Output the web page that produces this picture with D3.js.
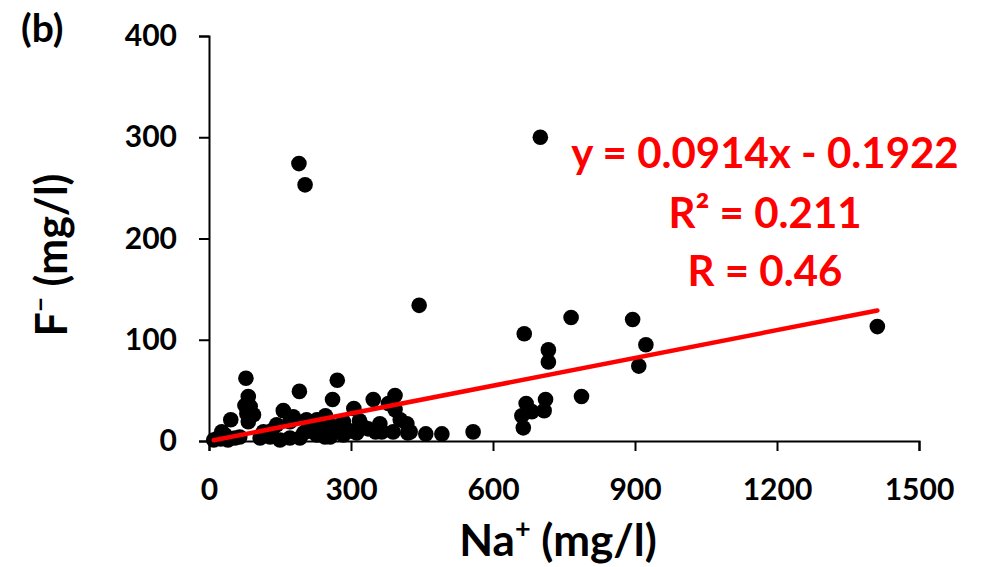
<!DOCTYPE html>
<html>
<head>
<meta charset="utf-8">
<script src="https://cdn.jsdelivr.net/npm/d3@7"></script>
<style>
    body { margin: 0; background: #ffffff; }
    svg { display: block; }
    text { font-family: Lato, "Open Sans", sans-serif; font-weight: bold; }
</style>
</head>
<body>
<div id="chart"></div>
<script>
// Na+ (mg/l) values of the samples
const naValues = [
    190, 203, 700, 444, 765, 895, 666, 717, 717, 923, 908, 1412,
    787, 711, 670, 682, 708, 661, 664, 558, 492, 458, 420,
    78, 83, 76, 87, 80, 94, 46, 83, 191, 157, 34, 19, 115, 143, 171, 206,
    108, 150, 192, 220,
    271, 261, 347, 393, 306, 379, 393, 228, 256, 284, 326, 361, 404, 418,
    425, 365, 312, 256, 228, 284, 389,
    178, 129, 171, 245, 10, 25, 40, 55, 65, 27,
    132, 200, 238, 266, 298, 336, 352, 214, 246, 318
];
// F- (mg/l) values of the same samples
const fValues = [
    274, 253, 300, 134, 122, 120, 106, 90, 78, 95, 74, 113,
    44, 41, 37, 29, 30, 25, 13, 9, 7, 7, 8,
    62, 44, 35, 34, 27, 26, 21, 19, 49, 30, 6, 3, 9, 16, 19, 21,
    3, 1, 3, 9,
    60, 41, 41, 45, 32, 37, 31, 21, 16, 19, 14, 17, 21, 17,
    9, 9, 8, 4, 6, 6, 9,
    24, 4, 3, 4, 1, 2, 1, 3, 4, 9,
    10, 8, 12, 10, 10, 12, 9, 14, 25, 20
];
const xTicks = [0, 300, 600, 900, 1200, 1500];
const yTicks = [0, 100, 200, 300, 400];

// trend line y = slope * x + intercept
const slope = 0.0914;
const intercept = -0.1922;
const statLines = ["y = 0.0914x - 0.1922", "R² = 0.211", "R = 0.46"];

const width = 981;
const height = 567;

const svg = d3.select("#chart")
    .append("svg")
    .attr("width", width)
    .attr("height", height);

const x = d3.scaleLinear().domain([0, 1500]).range([209, 919]);
const y = d3.scaleLinear().domain([0, 400]).range([441, 36]);

// x axis
svg.append("g")
    .attr("transform", `translate(0,${y(0)})`)
    .call(d3.axisBottom(x).tickValues(xTicks).tickFormat(d3.format("d"))
        .tickSize(10).tickSizeOuter(10).tickPadding(28))
    .call(g => g.selectAll(".domain, .tick line").attr("stroke", "#000").attr("stroke-width", 2))
    .call(g => g.selectAll(".tick text").attr("fill", "#000").attr("font-size", "30px")
        .attr("font-family", "Lato, 'Open Sans', sans-serif").attr("font-weight", "bold"));

// y axis
svg.append("g")
    .attr("transform", `translate(${x(0)},0)`)
    .call(d3.axisLeft(y).tickValues(yTicks).tickFormat(d3.format("d"))
        .tickSize(10).tickSizeOuter(10).tickPadding(22))
    .call(g => g.selectAll(".domain, .tick line").attr("stroke", "#000").attr("stroke-width", 2))
    .call(g => g.selectAll(".tick text").attr("fill", "#000").attr("font-size", "30px")
        .attr("font-family", "Lato, 'Open Sans', sans-serif").attr("font-weight", "bold"));

// points
svg.append("g")
    .selectAll("circle")
    .data(naValues)
    .enter()
    .append("circle")
    .attr("cx", d => x(d))
    .attr("cy", (d, i) => y(fValues[i]))
    .attr("r", 7.8)
    .attr("fill", "#000");

// trend line over the data range
const xExtent = d3.extent(naValues);
const line = d3.line()
    .x(d => x(d))
    .y(d => y(slope * d + intercept));

svg.append("path")
    .datum(xExtent)
    .attr("fill", "none")
    .attr("stroke", "#ff0000")
    .attr("stroke-width", 4.5)
    .attr("stroke-linecap", "round")
    .attr("d", line);

// equation text
svg.append("g")
    .selectAll("text")
    .data(statLines)
    .enter()
    .append("text")
    .attr("x", 765)
    .attr("y", (d, i) => [168, 228, 286][i])
    .attr("text-anchor", "middle")
    .attr("font-size", "42px")
    .attr("fill", "#ff0000")
    .text(d => d);

// panel label
svg.append("text")
    .attr("x", 21)
    .attr("y", 42)
    .attr("font-size", "39px")
    .attr("fill", "#000")
    .text("(b)");

// x axis title
const xTitle = svg.append("text")
    .attr("x", 558)
    .attr("y", 556)
    .attr("text-anchor", "middle")
    .attr("font-size", "44px")
    .attr("fill", "#000");
xTitle.append("tspan").text("Na");
xTitle.append("tspan").attr("font-size", "27px").attr("baseline-shift", "65%").text("+");
xTitle.append("tspan").text(" (mg/l)");

// y axis title
const yTitle = svg.append("text")
    .attr("transform", "translate(67,255) rotate(-90)")
    .attr("text-anchor", "middle")
    .attr("font-size", "43px")
    .attr("fill", "#000");
yTitle.append("tspan").text("F");
yTitle.append("tspan").attr("font-size", "26px").attr("baseline-shift", "65%").text("−");
yTitle.append("tspan").text(" (mg/l)");
</script>
</body>
</html>
